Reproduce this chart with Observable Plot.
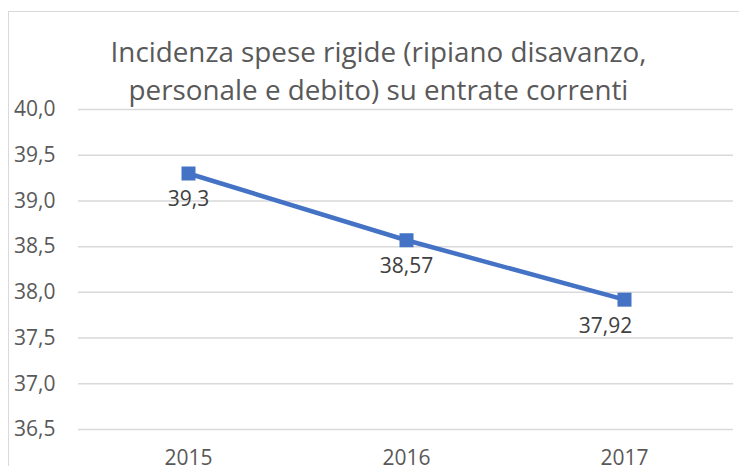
<!DOCTYPE html>
<html>
<head>
<meta charset="utf-8">
<script src="https://cdn.jsdelivr.net/npm/d3@7"></script>
<script src="https://cdn.jsdelivr.net/npm/@observablehq/plot@0.6"></script>
<style>
  html, body { margin: 0; padding: 0; background: #fff; overflow: hidden; }
  #wrap { position: relative; width: 739px; height: 466px; overflow: hidden; font-family: "Open Sans", sans-serif; }
  #frame { position: absolute; left: 8px; top: 11px; width: 800px; height: 600px; border: 1.5px solid #d9d9d9; box-sizing: border-box; }
  #title { position: absolute; left: 0; width: 757px; top: 32px; text-align: center; font-size: 27.8px; line-height: 38px; color: #595959; }
  #chart { position: absolute; left: 0; top: 0; }
</style>
</head>
<body>
<div id="wrap">
  <div id="frame"></div>
  <div id="chart"></div>
  <div id="title">Incidenza spese rigide (ripiano disavanzo,<br>personale e debito) su entrate correnti</div>
</div>
<script>
const years = ["2015", "2016", "2017"];
const values = [39.3, 38.57, 37.92];
const valueLabels = ["39,3", "38,57", "37,92"];
const yTicks = [36.5, 37, 37.5, 38, 38.5, 39, 39.5, 40];

const data = years.map((y, i) => ({year: y, value: values[i], label: valueLabels[i]}));
const fmt = d => d.toFixed(1).replace(".", ",");

const chart = Plot.plot({
  width: 739,
  height: 466,
  marginTop: 109,
  marginBottom: 37,
  marginLeft: 78,
  marginRight: 6,
  style: {fontFamily: "Open Sans, sans-serif", fontSize: "21px", background: "transparent"},
  x: {type: "point", domain: years, padding: 0.5, label: null, tickSize: 0, tickPadding: 21},
  y: {domain: [36.5, 40], ticks: yTicks, tickFormat: fmt, label: null, tickSize: 0, tickPadding: 23},
  marks: [
    Plot.ruleY(yTicks, {stroke: "#d9d9d9", strokeWidth: 1.5}),
    Plot.axisY({ticks: yTicks, tickFormat: fmt, tickSize: 0, tickPadding: 23, label: null, fill: "#595959", fontSize: 21}),
    Plot.axisX({tickSize: 0, tickPadding: 21, label: null, fill: "#595959", fontSize: 21}),
    Plot.line(data, {x: "year", y: "value", stroke: "#4472C4", strokeWidth: 4.5}),
    Plot.dot(data, {x: "year", y: "value", symbol: "square", r: 7.9, fill: "#4472C4", stroke: "none"}),
    Plot.text(data.slice(0, 2), {x: "year", y: "value", text: "label", dy: 26, fill: "#404040", fontSize: 21}),
    Plot.text(data.slice(2), {x: "year", y: "value", text: "label", dy: 27, dx: -19, fill: "#404040", fontSize: 21})
  ]
});
document.getElementById("chart").appendChild(chart);
</script>
</body>
</html>
